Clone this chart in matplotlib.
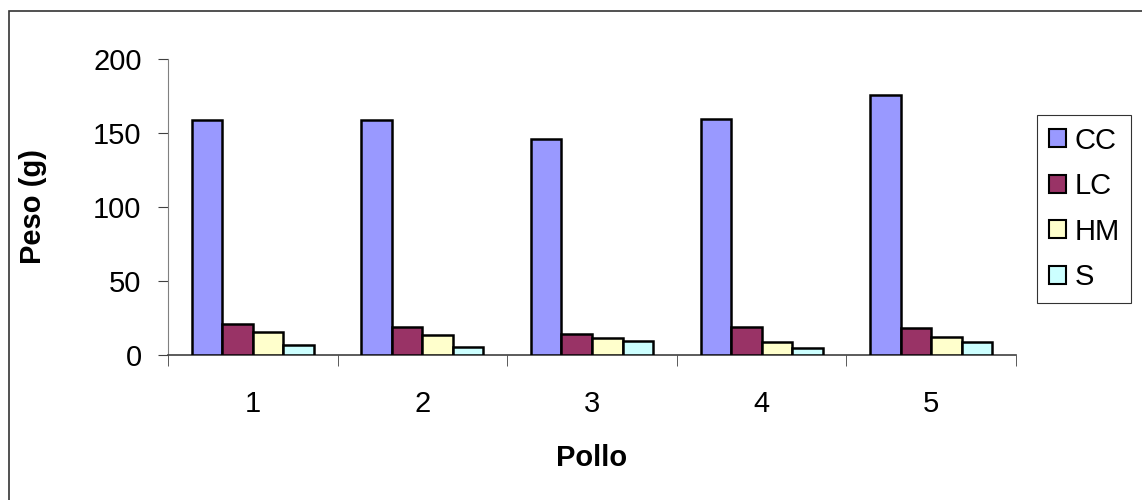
import numpy as np
import matplotlib.pyplot as plt
from matplotlib.patches import Rectangle

plt.rcParams['font.family'] = ['Liberation Sans', 'DejaVu Sans']

# data
pollos = ['1', '2', '3', '4', '5']
series = ['CC', 'LC', 'HM', 'S']
cc = [158.5, 159, 146, 159.5, 175.5]
lc = [21, 19, 14.5, 19, 18.5]
hm = [15.5, 13.5, 11.5, 8.5, 12.5]
s = [6.5, 5.5, 9.5, 4.5, 8.5]
colors = ['#9999ff', '#993366', '#ffffcc', '#ccffff']

fig = plt.figure(figsize=(11.42, 5), dpi=100)
ax = fig.add_axes([168 / 1142, 1 - 355 / 500, 848 / 1142, 296 / 500])

x = np.arange(1, len(pollos) + 1)
w = 0.18
for i, (vals, name) in enumerate(zip([cc, lc, hm, s], series)):
    ax.bar(x + (i - 1.5) * w, vals, w, color=colors[i], edgecolor='black',
           linewidth=1.8, label=name, zorder=3)

ax.set_xlim(0.5, 5.5)
ax.set_ylim(0, 200)
ax.set_yticks([0, 50, 100, 150, 200])
ax.set_xticks(x)
ax.set_xticklabels(pollos)
ax.set_xticks(np.arange(0.5, 6, 1), minor=True)
ax.tick_params(axis='x', which='major', length=0, labelsize=21, pad=25)
ax.tick_params(axis='x', which='minor', length=8, color='#404040', direction='out')
ax.tick_params(axis='y', length=7, color='#404040', labelsize=21, pad=12)
for sp in ['top', 'right']:
    ax.spines[sp].set_visible(False)
ax.spines['left'].set_color('#808080')
ax.spines['bottom'].set_color('#404040')
ax.spines['bottom'].set_linewidth(1.2)

ax.set_xlabel('Pollo', fontsize=21, fontweight='bold', va='center')
ax.set_ylabel('Peso (g)', fontsize=21, fontweight='bold', va='center')
ax.xaxis.set_label_coords(0.5, (355 - 458) / 296)
ax.yaxis.set_label_coords((33 - 168) / 848, 0.5)

leg = ax.legend(loc='upper left', bbox_to_anchor=(1037 / 1142, 1 - 115 / 500),
                bbox_transform=fig.transFigure, fontsize=21, frameon=True,
                fancybox=False, edgecolor='black', handlelength=0.58,
                handleheight=0.58, handletextpad=0.3, labelspacing=0.6,
                borderpad=0.4, borderaxespad=0)
leg.get_frame().set_linewidth(0.8)
for h in leg.legend_handles:
    h.set_linewidth(1.5)

# outer chart frame
fig.patches.append(Rectangle((9 / 1142, -0.1), 1.2, 1 - 11 / 500 + 0.1,
                             transform=fig.transFigure, fill=False,
                             edgecolor='#333333', linewidth=1.2))

fig.savefig('out.png', dpi=100)
